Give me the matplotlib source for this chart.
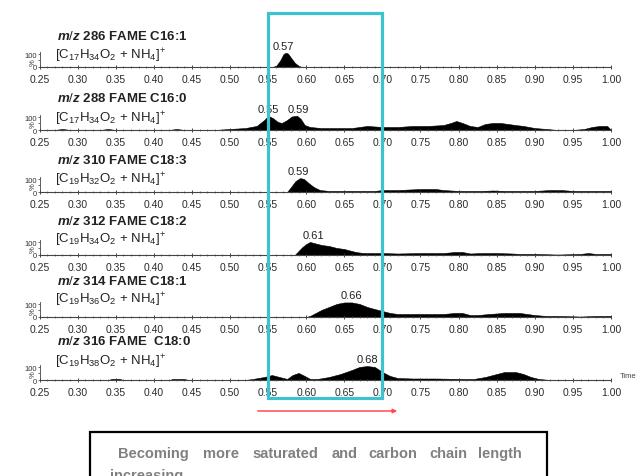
import numpy as np
import matplotlib
matplotlib.use("Agg")
import matplotlib.pyplot as plt
from matplotlib.patches import Rectangle, FancyArrowPatch

plt.rcParams['font.family'] = ['Liberation Sans', 'DejaVu Sans']
plt.rcParams['mathtext.fontset'] = 'custom'
plt.rcParams['mathtext.rm'] = 'Liberation Sans'
plt.rcParams['mathtext.it'] = 'Liberation Sans:italic:bold'
plt.rcParams['mathtext.bf'] = 'Liberation Sans:bold'

#============================================
# extracted ion chromatograms, relative intensity (%) vs time
titles = [r"$\mathit{m/z}$ 286 FAME C16:1",
          r"$\mathit{m/z}$ 288 FAME C16:0",
          r"$\mathit{m/z}$ 310 FAME C18:3",
          r"$\mathit{m/z}$ 312 FAME C18:2",
          r"$\mathit{m/z}$ 314 FAME C18:1",
          r"$\mathit{m/z}$ 316 FAME  C18:0"]
formulas = [r"[C$_{17}$H$_{34}$O$_2$ + NH$_4$]$^{+}$",
            r"[C$_{17}$H$_{34}$O$_2$ + NH$_4$]$^{+}$",
            r"[C$_{19}$H$_{32}$O$_2$ + NH$_4$]$^{+}$",
            r"[C$_{19}$H$_{34}$O$_2$ + NH$_4$]$^{+}$",
            r"[C$_{19}$H$_{36}$O$_2$ + NH$_4$]$^{+}$",
            r"[C$_{19}$H$_{38}$O$_2$ + NH$_4$]$^{+}$"]

c16_1_t = [0.25, 0.556, 0.561, 0.566, 0.570, 0.573, 0.576, 0.580, 0.585, 0.590, 0.594, 1.00]
c16_1_y = [0, 0, 10, 45, 85, 95, 90, 62, 28, 8, 0, 0]

c16_0_t = [0.25, 0.27, 0.28, 0.29, 0.33, 0.34, 0.35, 0.42, 0.43, 0.44, 0.48, 0.50, 0.52,
           0.535, 0.545, 0.55, 0.556, 0.563, 0.568, 0.575, 0.581, 0.588, 0.593, 0.598,
           0.605, 0.62, 0.64, 0.66, 0.68, 0.70, 0.72, 0.74, 0.76, 0.78, 0.79, 0.797,
           0.805, 0.815, 0.825, 0.835, 0.845, 0.855, 0.865, 0.875, 0.885, 0.90, 0.915,
           0.93, 0.95, 0.965, 0.975, 0.985, 0.995, 1.0]
c16_0_y = [0, 0, 7, 0, 0, 7, 0, 0, 7, 0, 0, 7, 13,
           27, 67, 95, 80, 53, 47, 67, 90, 95, 73, 33,
           20, 13, 13, 13, 27, 20, 20, 27, 27, 33, 47, 60,
           47, 27, 20, 40, 47, 47, 40, 33, 27, 13, 7,
           0, 0, 7, 20, 27, 27, 0]

c18_3_t = [0.25, 0.575, 0.580, 0.586, 0.592, 0.597, 0.603, 0.610, 0.618, 0.63, 0.66, 0.69,
           0.70, 0.72, 0.75, 0.77, 0.78, 0.80, 0.83, 0.845, 0.86, 0.88, 0.90, 0.92, 0.935,
           0.95, 0.97, 1.0]
c18_3_y = [0, 0, 33, 73, 93, 87, 60, 33, 13, 7, 7, 7,
           13, 13, 20, 20, 13, 7, 7, 10, 7, 7, 7, 13, 13,
           7, 7, 7]

c18_2_t = [0.25, 0.585, 0.59, 0.595, 0.60, 0.605, 0.61, 0.62, 0.63, 0.64, 0.65, 0.655,
           0.665, 0.675, 0.69, 0.70, 0.72, 0.75, 0.78, 0.795, 0.805, 0.815, 0.83, 0.85,
           0.87, 0.88, 0.90, 0.93, 0.96, 0.97, 0.98, 1.0]
c18_2_y = [0, 0, 27, 53, 73, 87, 80, 67, 60, 47, 40, 33,
           20, 13, 13, 13, 10, 13, 13, 20, 20, 10, 13, 13,
           10, 7, 7, 3, 7, 13, 7, 7]

c18_1_t = [0.25, 0.60, 0.605, 0.61, 0.62, 0.63, 0.64, 0.65, 0.66, 0.67, 0.68, 0.69, 0.70,
           0.71, 0.72, 0.74, 0.76, 0.78, 0.795, 0.805, 0.815, 0.825, 0.84, 0.86, 0.88,
           0.89, 0.90, 0.915, 0.93, 0.96, 0.98, 1.0]
c18_1_y = [0, 0, 7, 20, 47, 67, 87, 97, 97, 87, 67, 53, 40,
           27, 20, 20, 20, 20, 27, 27, 13, 13, 20, 27, 27,
           20, 13, 7, 7, 3, 7, 7]

c18_0_t = [0.25, 0.34, 0.345, 0.355, 0.36, 0.42, 0.425, 0.44, 0.445, 0.52, 0.53, 0.545,
           0.555, 0.565, 0.575, 0.582, 0.59, 0.598, 0.605, 0.615, 0.63, 0.645, 0.66, 0.67,
           0.68, 0.69, 0.70, 0.71, 0.72, 0.74, 0.77, 0.80, 0.82, 0.835, 0.85, 0.86, 0.875,
           0.885, 0.895, 0.905, 0.92, 0.93, 1.0]
c18_0_y = [0, 0, 7, 7, 0, 0, 7, 7, 0, 0, 7, 20,
           33, 20, 7, 33, 47, 27, 7, 7, 20, 40, 67, 87,
           93, 87, 53, 27, 13, 10, 10, 7, 7, 20, 40, 53, 53,
           40, 20, 7, 0, 0, 0]

traces_t = [c16_1_t, c16_0_t, c18_3_t, c18_2_t, c18_1_t, c18_0_t]
traces_y = [c16_1_y, c16_0_y, c18_3_y, c18_2_y, c18_1_y, c18_0_y]
peak_labels = [[0.57], [0.55, 0.59], [0.59], [0.61], [0.66], [0.68]]

x_ticks = [0.25, 0.30, 0.35, 0.40, 0.45, 0.50, 0.55, 0.60, 0.65, 0.70,
           0.75, 0.80, 0.85, 0.90, 0.95, 1.00]
#============================================

W, H = 637, 477
X0, X1 = 39.5, 611.0
baselines = [68, 131, 193, 256, 318, 381]
title_y = [37, 98, 160, 222, 282, 342]
formula_y = [56, 119, 180, 240, 300, 362]
AX_H = 15.0


def fx(px):
    return px / W


def fy(py):
    return 1 - py / H


def main():
    fig = plt.figure(figsize=(W / 100, H / 100), dpi=100)

    for i in range(6):
        yb = baselines[i]
        ax = fig.add_axes([fx(X0), fy(yb), fx(X1 - X0), AX_H / H])
        ax.set_xlim(0.25, 1.00)
        ax.set_ylim(0, 100)
        ax.patch.set_alpha(0)
        t = np.array(traces_t[i])
        y = np.array(traces_y[i])
        ax.fill_between(t, 0, y, color="black", lw=0.4, edgecolor="black")

        for s in ["top", "right"]:
            ax.spines[s].set_visible(False)
        ax.spines["bottom"].set_color("#444444")
        ax.spines["bottom"].set_linewidth(0.8)
        ax.spines["left"].set_color("#444444")
        ax.spines["left"].set_linewidth(0.6)
        ax.spines["left"].set_bounds(0, 100)

        ax.set_xticks(x_ticks)
        ax.set_xticklabels(["%.2f" % v for v in x_ticks])
        ax.set_xticks(np.arange(0.25, 1.001, 0.01), minor=True)
        ax.tick_params(axis="x", which="major", direction="inout", length=3,
                       width=0.6, pad=3.5, labelsize=7.5, colors="#2a2a2a")
        ax.tick_params(axis="x", which="minor", direction="inout", length=2,
                       width=0.5, colors="#555555")
        ax.set_yticks([0, 45, 85])
        ax.set_yticklabels(["0", "%", "100"])
        ax.tick_params(axis="y", length=1.5, width=0.5, pad=0.3, labelsize=5.5,
                       colors="#333333")
        ax.get_yticklabels()[1].set_rotation(90)

        # retention time labels over the peaks
        for lab in peak_labels[i]:
            near = np.abs(t - lab) <= 0.006
            top = y[near].max() if near.any() else y.max()
            ax.annotate("%.2f" % lab, xy=(lab, top), xytext=(0, 1.5),
                        textcoords="offset points", ha="center", va="bottom",
                        fontsize=8, color="#222222", annotation_clip=False)

        fig.text(fx(57), fy(title_y[i]), titles[i], fontsize=9.5, fontweight="bold",
                 ha="left", va="center", color="#222222")
        fig.text(fx(55), fy(formula_y[i]), formulas[i], fontsize=9.5,
                 ha="left", va="center", color="#222222")

    fig.text(fx(620), fy(380), "Time", fontsize=5.5, ha="left", va="bottom",
             color="#444444")

    # window around the 0.55-0.70 min region
    xa = X0 + (0.55 - 0.25) / 0.75 * (X1 - X0)
    xb = X0 + (0.70 - 0.25) / 0.75 * (X1 - X0)
    rect = Rectangle((fx(xa), fy(399)), fx(xb - xa), (399 - 14) / H,
                     transform=fig.transFigure, fill=False, edgecolor="#3ec2ce",
                     linewidth=2.3)
    fig.add_artist(rect)

    arrow = FancyArrowPatch((fx(255), fy(412)), (fx(400), fy(412)),
                            transform=fig.transFigure, arrowstyle="-|>",
                            mutation_scale=6, color="#ff4a4a", linewidth=1.1)
    fig.add_artist(arrow)

    box = Rectangle((fx(90), fy(500)), fx(547 - 90), (500 - 433) / H,
                    transform=fig.transFigure, fill=False, edgecolor="black",
                    linewidth=1.6)
    fig.add_artist(box)

    words = ["Becoming", "more", "saturated", "and", "carbon", "chain", "length"]
    word_x = [118, 203, 252, 332, 368, 429, 478]
    for w, x in zip(words, word_x):
        fig.text(fx(x), fy(454), w, fontsize=10.5, fontweight="bold",
                 color="#808080", ha="left", va="center")
    fig.text(fx(110), fy(476), "increasing", fontsize=10.5, fontweight="bold",
             color="#808080", ha="left", va="center")

    fig.savefig("out.png", dpi=100)


if __name__ == '__main__':
    main()
